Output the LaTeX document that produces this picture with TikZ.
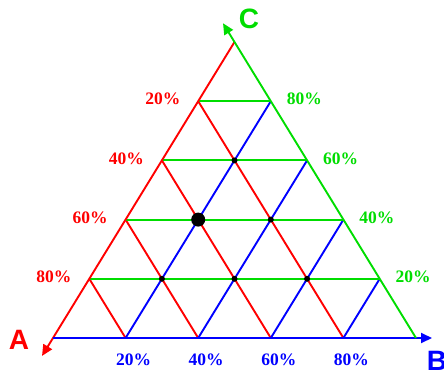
\documentclass[tikz,border=0pt]{standalone}
\usepackage{fontspec}
\setmainfont{Liberation Serif}
\newfontfamily\cornerfont{Liberation Sans}
\usetikzlibrary{calc,arrows.meta}
\definecolor{cA}{RGB}{255,0,0}
\definecolor{cB}{RGB}{0,0,255}
\definecolor{cC}{RGB}{0,221,0}

\begin{document}
\begin{tikzpicture}[x=1pt, y=-1pt, line width=1.9pt,
  pct/.style={font=\bfseries\fontsize{17.5}{17.5}\selectfont, inner sep=0pt},
  corner/.style={font=\cornerfont\bfseries\fontsize{28}{28}\selectfont, inner sep=0pt},
  axis/.style={-{Triangle[length=11pt, width=10pt]}},
  dot/.style={circle, fill=black, inner sep=0pt, minimum size=6pt},
  bigdot/.style={dot, minimum size=14pt}]
\useasboundingbox (0,0) rectangle (444,374);
\coordinate (A) at (53,338);
\coordinate (B) at (416,338);
\coordinate (C) at (234.5,42);
\foreach \k in {1,...,4} {
  \coordinate (ca\k) at ($(A)!\k/5!(C)$);
  \coordinate (cb\k) at ($(B)!\k/5!(C)$);
  \coordinate (ab\k) at ($(A)!\k/5!(B)$);
}
% grid lines
\foreach \k in {1,...,4} {
  \pgfmathtruncatemacro{\m}{5-\k}
  \draw[cA] (ca\k) -- (ab\k);
  \draw[cB] (ab\k) -- (cb\m);
}
\foreach \k in {1,...,4}
  \draw[cC] (ca\k) -- (cb\k);
% axes
\draw[cA, axis] (C) -- ($(A)!-21pt!(C)$);
\draw[cB, axis] (A) -- ($(B)!-16pt!(A)$);
\draw[cC, axis] (B) -- ($(C)!-22pt!(B)$);
% scale labels
\foreach \k in {1,...,4} {
  \pgfmathtruncatemacro{\pa}{100-20*\k}
  \pgfmathtruncatemacro{\pc}{20*\k}
  \node[pct, cA, anchor=east, xshift=-17pt, yshift=2pt] (la\k) at (ca\k) {\pa\%};
  \node[pct, cC, anchor=west, xshift=15pt, yshift=2pt] (lc\k) at (cb\k) {\pc\%};
  \node[pct, cB, xshift=8pt, yshift=-22pt] (lb\k) at (ab\k) {\pc\%};
}
\node[corner, cA] (nA) at (19,340) {A};
\node[corner, cB] (nB) at (437,361) {B};
\node[corner, cC] (nC) at (249,19) {C};
% points
\foreach \k/\n in {1/3,2/2,3/1}
  \foreach \j in {1,...,\n}
    \node[dot] (d\k\j) at ($(ca\k)!\j/(5-\k)!(cb\k)$) {};
\node[bigdot] (mark) at (d21) {};
\end{tikzpicture}
\end{document}
